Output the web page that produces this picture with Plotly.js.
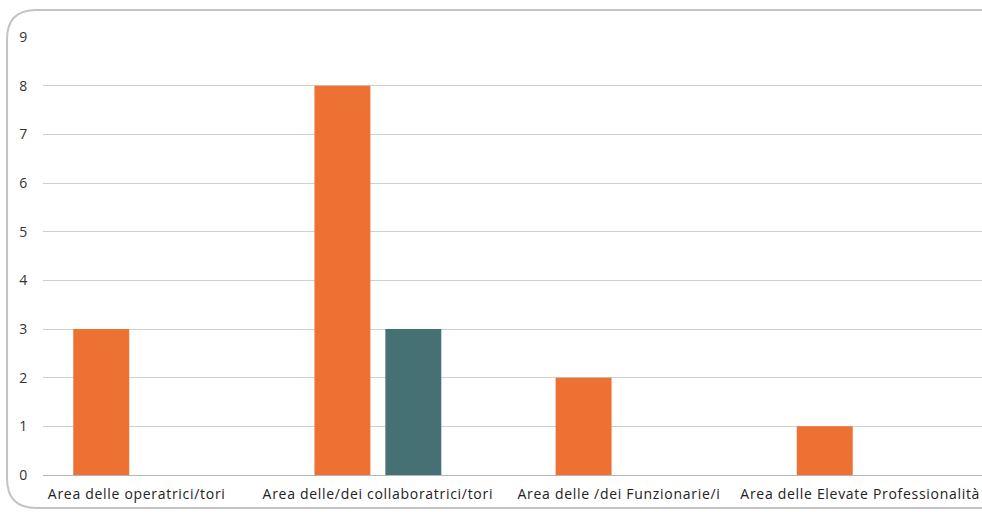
<!DOCTYPE html>
<html>
<head>
<meta charset="utf-8">
<script src="https://cdn.plot.ly/plotly-3.0.1.min.js"></script>
<style>
  html, body { margin: 0; padding: 0; background: #ffffff; overflow: hidden; }
  #chart { position: absolute; left: 0; top: 0; width: 982px; height: 512px; }
  #chart .xtick text, #chart .ytick text { letter-spacing: 0.7px; }
</style>
</head>
<body>
<div id="chart"></div>
<script>
const categories = [
  "Area delle operatrici/tori",
  "Area delle/dei collaboratrici/tori",
  "Area delle /dei Funzionarie/i",
  "Area delle Elevate Professionalità"
];
const seriesOrange = [3, 8, 2, 1];
const seriesTeal = [0, 3, 0, 0];
const yTicks = [0, 1, 2, 3, 4, 5, 6, 7, 8, 9];

const data = [
  { type: 'bar', x: categories, y: seriesOrange, marker: { color: '#EC7133' }, hoverinfo: 'none' },
  { type: 'bar', x: categories, y: seriesTeal, marker: { color: '#457174' }, hoverinfo: 'none' }
];

// rounded frame (decoration) in paper coordinates; right side runs past the page edge
const L = -0.0383, T = 1.0616, B = -0.0753, R = 1.08, rx = 0.0310, ry = 0.0665;
const framePath = `M ${R},${T} L ${L + rx},${T} Q ${L},${T} ${L},${T - ry} ` +
                  `L ${L},${B + ry} Q ${L},${B} ${L + rx},${B} L ${R},${B}`;

const layout = {
  width: 982, height: 512,
  margin: { l: 43, r: 0, t: 37, b: 37 },
  paper_bgcolor: '#ffffff',
  plot_bgcolor: 'rgba(0,0,0,0)',
  showlegend: false,
  barmode: 'group',
  bargap: 0.412,
  bargroupgap: 0.211,
  font: { family: 'Open Sans, sans-serif', size: 14, color: '#222222' },
  shapes: [{
    type: 'path', xref: 'paper', yref: 'paper', path: framePath,
    line: { color: '#c4c4c4', width: 2 }, layer: 'below'
  }],
  xaxis: {
    type: 'category',
    range: [-0.3885, 3.505],
    showgrid: false, zeroline: false, showline: false,
    ticks: '', ticklabelstandoff: 9,
    tickfont: { size: 14, color: '#222222' },
    fixedrange: true
  },
  yaxis: {
    range: [0, 9],
    tickvals: yTicks,
    showgrid: true, gridcolor: '#cfcfcf', gridwidth: 1,
    zeroline: true, zerolinecolor: '#b5b5b5', zerolinewidth: 1,
    showline: false, ticks: '', ticklabelstandoff: 14,
    tickfont: { size: 14, color: '#333333' },
    fixedrange: true
  }
};

Plotly.newPlot('chart', data, layout, { staticPlot: true, displayModeBar: false });
</script>
</body>
</html>
